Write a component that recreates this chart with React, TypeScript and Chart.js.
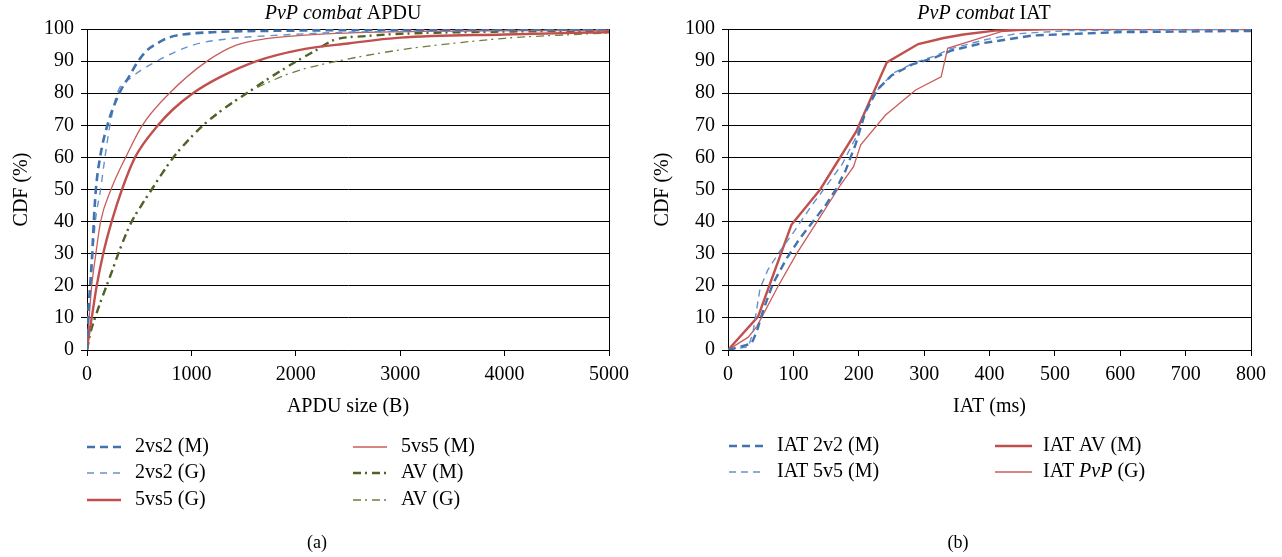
import React, { useEffect, useRef } from 'react';
import { Chart, registerables } from 'chart.js';
Chart.register(...registerables);

const FONT = "'Liberation Serif', 'Times New Roman', serif";

// ---------- (a) PvP combat APDU : [APDU size (B), CDF (%)] ----------
const apdu2vs2M: [number, number][] = [
  [0, 0], [10, 10], [30, 20], [50, 30], [65, 40], [85, 50], [125, 60], [195, 70], [310, 80], [400, 85],
  [490, 90], [580, 93.5], [670, 95.5], [780, 97.3], [900, 98.2], [1200, 99], [2000, 99.5], [3500, 99.8], [5000, 100],
];
const apdu2vs2G: [number, number][] = [
  [0, 0], [12, 10], [35, 20], [55, 30], [80, 40], [130, 50], [172, 60], [220, 70], [290, 80], [430, 85],
  [670, 90], [1015, 95], [1370, 97], [1800, 98], [2500, 99], [5000, 99.8],
];
const apdu5vs5G: [number, number][] = [
  [0, 0], [20, 5], [45, 10], [93, 20], [155, 30], [236, 40], [335, 50], [460, 60], [680, 70], [825, 75],
  [1015, 80], [1274, 85], [1625, 90], [2040, 93.5], [2500, 95.5], [3000, 97.3], [4000, 98.3], [5000, 99],
];
const apdu5vs5M: [number, number][] = [
  [0, 0], [8, 5], [20, 10], [45, 20], [85, 30], [130, 40], [230, 50], [370, 60], [530, 70], [790, 80],
  [1150, 90], [1430, 95], [1720, 97], [2050, 98], [2800, 99], [5000, 99.6],
];
const apduAVM: [number, number][] = [
  [0, 0], [30, 5], [77, 10], [130, 15], [188, 20], [245, 25], [300, 30], [360, 35], [428, 40], [520, 45],
  [620, 50], [720, 55], [827, 60], [960, 65], [1113, 70], [1305, 75], [1530, 80], [1760, 85], [2010, 90],
  [2200, 93.5], [2360, 96.5], [2680, 97.8], [3000, 98.5], [4000, 99.2], [5000, 99.5],
];
const apduAVG: [number, number][] = [
  [0, 0], [30, 5], [75, 10], [128, 15], [185, 20], [243, 25], [298, 30], [358, 35], [425, 40], [517, 45],
  [615, 50], [718, 55], [825, 60], [958, 65], [1110, 70], [1300, 75], [1530, 80], [1850, 85], [2040, 87.2],
  [2400, 90], [3000, 93.5], [3500, 95.5], [4000, 97.1], [5000, 98.8],
];

// ---------- (b) PvP combat IAT : [IAT (ms), CDF (%)] ----------
const iat2v2M: [number, number][] = [
  [0, 0], [36, 2], [44, 5.7], [54, 12.5], [69, 20.8], [90, 28.6], [110, 34.8], [149, 45], [165, 50],
  [180, 56], [195, 64], [210, 74], [228, 81], [250, 85.5], [282, 89], [315, 91], [342, 93.3], [390, 95.6],
  [467, 98], [595, 99], [800, 99.4],
];
const iat5v5M: [number, number][] = [
  [0, 0], [31, 1], [38, 5.2], [49, 19.2], [61, 25], [80, 31], [98, 36], [128, 45], [150, 51], [175, 58],
  [195, 66], [212, 75], [232, 82], [255, 86.5], [285, 89.5], [315, 91.5], [340, 93.8], [390, 96.5],
  [440, 98.5], [520, 99.5], [800, 100],
];
const iatAVM: [number, number][] = [
  [0, 0], [46, 10.4], [97, 39], [141, 50], [196, 68], [243, 89.6], [291, 95.3], [330, 97.2], [360, 98.3],
  [408, 99.5], [500, 100], [800, 100],
];
const iatPvPG: [number, number][] = [
  [0, 0], [31, 4], [44, 7.3], [77, 20], [105, 30], [141, 41.5], [172, 51.4], [192, 57.1], [203, 63.9],
  [241, 73.2], [287, 81], [326, 85.1], [336, 94], [377, 96.6], [418, 99.2], [470, 100], [800, 100],
];

const yTicks = [0, 10, 20, 30, 40, 50, 60, 70, 80, 90, 100];

const BLUE_D = '#4272B0';
const BLUE_L = '#6592CC';
const RED = '#C0504D';
const RED_L = '#C95C59';
const GREEN_D = '#4F6228';
const GREEN_L = '#6B7F3C';

type Seg = { text: string; italic: boolean };
function splitItalic(text: string): Seg[] {
  return text
    .split(/(PvP combat|PvP)/)
    .filter((t) => t.length > 0)
    .map((t) => ({ text: t, italic: t === 'PvP combat' || t === 'PvP' }));
}

function drawRich(ctx: CanvasRenderingContext2D, text: string, x: number, y: number, size: number, align: 'left' | 'center') {
  const segs = splitItalic(text);
  const fontOf = (s: Seg) => `${s.italic ? 'italic ' : ''}${size}px ${FONT}`;
  let total = 0;
  for (const s of segs) {
    ctx.font = fontOf(s);
    total += ctx.measureText(s.text).width;
  }
  let cx = align === 'center' ? x - total / 2 : x;
  ctx.textAlign = 'left';
  ctx.textBaseline = 'middle';
  ctx.fillStyle = '#000';
  for (const s of segs) {
    ctx.font = fontOf(s);
    ctx.fillText(s.text, cx, y);
    cx += ctx.measureText(s.text).width;
  }
}

type LegendSpot = { line: [number, number]; textX: number; y: number };

function makeDecor(title: string, sub: string, spots: LegendSpot[]) {
  return {
    id: 'decor',
    afterDraw(chart: any) {
      const ctx: CanvasRenderingContext2D = chart.ctx;
      ctx.save();
      drawRich(ctx, title, 343, 14, 20, 'center');
      chart.data.datasets.forEach((ds: any, i: number) => {
        const sp = spots[i];
        if (!sp) return;
        ctx.save();
        ctx.strokeStyle = ds.borderColor;
        ctx.lineWidth = ds.borderWidth;
        ctx.setLineDash(ds.borderDash || []);
        ctx.beginPath();
        ctx.moveTo(sp.line[0], sp.y);
        ctx.lineTo(sp.line[1], sp.y);
        ctx.stroke();
        ctx.restore();
        drawRich(ctx, ds.label, sp.textX, sp.y, 20, 'left');
      });
      drawRich(ctx, sub, 317, 543, 18, 'center');
      ctx.restore();
    },
  };
}

type Props = {
  left: number;
  datasets: any[];
  xMax: number;
  xStep: number;
  xTitle: string;
  title: string;
  sub: string;
  spots: LegendSpot[];
  padRight: number;
  smooth: boolean;
};

function CdfChart(p: Props) {
  const ref = useRef<HTMLCanvasElement>(null);
  useEffect(() => {
    const chart = new Chart(ref.current!, {
      type: 'line',
      data: {
        datasets: p.datasets.map((d) => ({
          ...d,
          pointRadius: 0,
          fill: false,
          cubicInterpolationMode: p.smooth ? 'monotone' : 'default',
          tension: 0,
        })),
      },
      options: {
        animation: false,
        responsive: false,
        events: [],
        layout: { padding: { left: 0, top: 29, right: p.padRight, bottom: 127 } },
        plugins: { legend: { display: false }, tooltip: { enabled: false }, title: { display: false } },
        scales: {
          x: {
            type: 'linear',
            min: 0,
            max: p.xMax,
            afterFit: (s: any) => { s.height = 80; },
            ticks: {
              stepSize: p.xStep,
              color: '#000',
              padding: 7,
              font: { family: FONT, size: 20 },
              callback: (v: any) => String(v),
            },
            grid: {
              drawOnChartArea: true,
              color: (c: any) => (c.tick && c.tick.value === p.xMax ? '#000' : 'rgba(0,0,0,0)'),
              tickColor: '#000',
              tickLength: 6,
              lineWidth: 1,
            },
            border: { display: true, color: '#000', width: 1 },
            title: {
              display: true,
              text: p.xTitle,
              color: '#000',
              font: { family: FONT, size: 20 },
              padding: { top: 0, bottom: 11 },
            },
          },
          y: {
            type: 'linear',
            min: 0,
            max: 100,
            afterFit: (s: any) => { s.width = 87; },
            afterBuildTicks: (s: any) => { s.ticks = yTicks.map((v) => ({ value: v })); },
            ticks: {
              color: '#000',
              padding: 7,
              font: { family: FONT, size: 20 },
              callback: (v: any) => String(v),
            },
            grid: { color: '#000', lineWidth: 1, tickLength: 6, tickColor: '#000' },
            border: { display: true, color: '#000', width: 1 },
            title: {
              display: true,
              text: 'CDF (%)',
              color: '#000',
              font: { family: FONT, size: 20 },
              padding: { top: 10, bottom: 0 },
            },
          },
        },
      } as any,
      plugins: [makeDecor(p.title, p.sub, p.spots)],
    });
    return () => chart.destroy();
  }, []);
  return (
    <canvas
      ref={ref}
      width={641}
      height={557}
      style={{ position: 'absolute', left: p.left, top: 0, width: 641, height: 557 }}
    />
  );
}

const toXY = (a: [number, number][]) => a.map(([x, y]) => ({ x, y }));

export default function App() {
  const leftSets = [
    { label: '2vs2 (M)', data: toXY(apdu2vs2M), borderColor: BLUE_D, borderWidth: 2.6, borderDash: [8, 5] },
    { label: '2vs2 (G)', data: toXY(apdu2vs2G), borderColor: BLUE_L, borderWidth: 1.4, borderDash: [7, 6] },
    { label: '5vs5 (G)', data: toXY(apdu5vs5G), borderColor: RED, borderWidth: 2.4 },
    { label: '5vs5 (M)', data: toXY(apdu5vs5M), borderColor: RED_L, borderWidth: 1.3 },
    { label: 'AV (M)', data: toXY(apduAVM), borderColor: GREEN_D, borderWidth: 2.4, borderDash: [8, 4, 2, 5] },
    { label: 'AV (G)', data: toXY(apduAVG), borderColor: GREEN_L, borderWidth: 1.3, borderDash: [8, 4, 2, 5] },
  ];
  const leftSpots: LegendSpot[] = [
    { line: [87, 121], textX: 135, y: 447 },
    { line: [87, 121], textX: 135, y: 473 },
    { line: [87, 121], textX: 135, y: 500 },
    { line: [353, 387], textX: 401, y: 447 },
    { line: [353, 387], textX: 401, y: 473 },
    { line: [353, 387], textX: 401, y: 500 },
  ];
  const rightSets = [
    { label: 'IAT 2v2 (M)', data: toXY(iat2v2M), borderColor: BLUE_D, borderWidth: 2.4, borderDash: [8, 5] },
    { label: 'IAT 5v5 (M)', data: toXY(iat5v5M), borderColor: BLUE_L, borderWidth: 1.4, borderDash: [7, 5] },
    { label: 'IAT AV (M)', data: toXY(iatAVM), borderColor: RED, borderWidth: 2.4 },
    { label: 'IAT PvP (G)', data: toXY(iatPvPG), borderColor: RED_L, borderWidth: 1.3 },
  ];
  const rightSpots: LegendSpot[] = [
    { line: [88, 123], textX: 136, y: 446 },
    { line: [88, 123], textX: 136, y: 472 },
    { line: [354, 391], textX: 402, y: 446 },
    { line: [354, 391], textX: 402, y: 472 },
  ];
  return (
    <div style={{ position: 'absolute', left: 0, top: 0, width: 1282, height: 557, background: '#fff' }}>
      <CdfChart
        left={0}
        datasets={leftSets}
        xMax={5000}
        xStep={1000}
        xTitle="APDU size (B)"
        title="PvP combat APDU"
        sub="(a)"
        spots={leftSpots}
        padRight={32}
        smooth={true}
      />
      <CdfChart
        left={641}
        datasets={rightSets}
        xMax={800}
        xStep={100}
        xTitle="IAT (ms)"
        title="PvP combat IAT"
        sub="(b)"
        spots={rightSpots}
        padRight={31}
        smooth={false}
      />
    </div>
  );
}
